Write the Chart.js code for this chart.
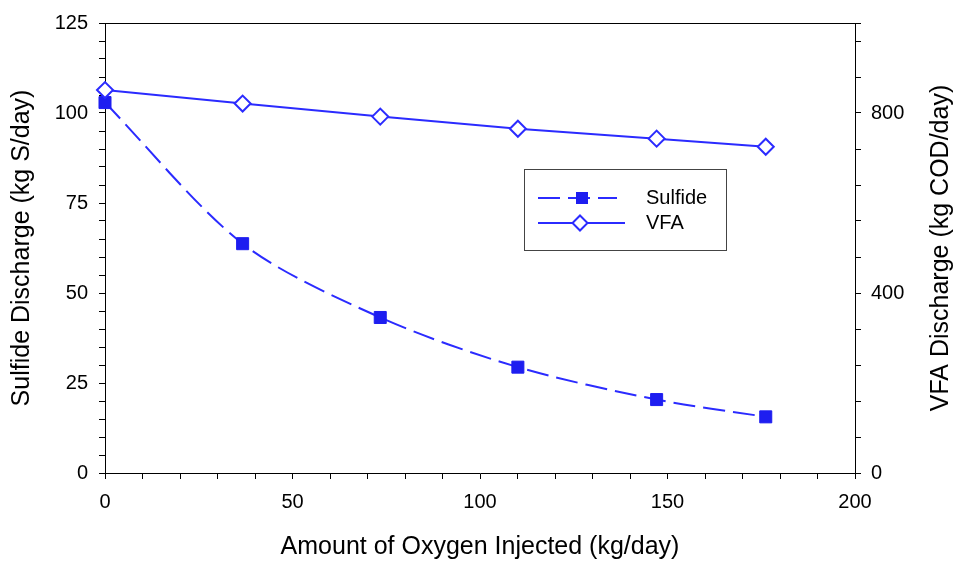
<!DOCTYPE html>
<html><head><meta charset="utf-8">
<script src="https://cdn.jsdelivr.net/npm/chart.js@4/dist/chart.umd.min.js"></script>
<style>html,body{margin:0;padding:0;background:#fff}#wrap{width:954px;height:562px}</style>
</head><body><div id="wrap"><canvas id="c" width="954" height="562"></canvas></div>
<script>
const oxygen = [0, 36.7, 73.4, 110.1, 147.1, 176.2];
const sulfide = [102.9, 63.7, 43.2, 29.4, 20.4, 15.6];
const vfa = [851, 821, 792, 765, 743, 725];
const xLabelTicks = [0, 50, 100, 150, 200];
const leftLabelTicks = [0, 25, 50, 75, 100, 125];
const rightLabelTicks = [0, 400, 800];
const seriesNames = ['Sulfide', 'VFA'];
const xTitle = 'Amount of Oxygen Injected (kg/day)';
const leftTitle = 'Sulfide Discharge (kg S/day)';
const rightTitle = 'VFA Discharge (kg COD/day)';

const FONT = "'Liberation Sans', Arial, sans-serif";
const BLUE = '#2b2bff';
const FILL = '#1e1ef0';

function stepTicks(min, max, step) {
  const out = [];
  for (let v = min; v < max - 1e-9; v += step) out.push({value: v});
  out.push({value: max});
  return out;
}

const decor = {
  id: 'decor',
  afterDraw(chart) {
    const {ctx, chartArea: a} = chart;
    ctx.save();
    ctx.strokeStyle = '#000'; ctx.lineWidth = 1;
    ctx.beginPath(); ctx.moveTo(a.left, a.top + 0.5); ctx.lineTo(a.right, a.top + 0.5); ctx.stroke();

    // right axis title (reads bottom to top)
    ctx.fillStyle = '#000';
    ctx.font = '25px ' + FONT;
    ctx.textAlign = 'center'; ctx.textBaseline = 'middle';
    ctx.translate(941, (a.top + a.bottom) / 2);
    ctx.rotate(-Math.PI / 2);
    ctx.fillText(rightTitle, 0, 0);
    ctx.restore();

    // legend
    ctx.save();
    const bx = 524, by = 169, bw = 202, bh = 81;
    ctx.fillStyle = '#fff'; ctx.fillRect(bx, by, bw, bh);
    ctx.strokeStyle = '#444'; ctx.lineWidth = 1;
    ctx.strokeRect(bx + 0.5, by + 0.5, bw, bh);
    const rows = [198, 223];
    ctx.strokeStyle = BLUE; ctx.lineWidth = 2;
    ctx.setLineDash([22, 8]);
    ctx.beginPath(); ctx.moveTo(538, rows[0]); ctx.lineTo(617, rows[0]); ctx.stroke();
    ctx.setLineDash([]);
    ctx.fillStyle = FILL;
    ctx.fillRect(576, rows[0] - 6, 12, 12);
    ctx.beginPath(); ctx.moveTo(538, rows[1]); ctx.lineTo(625, rows[1]); ctx.stroke();
    const dx = 580, r = 7.5;
    ctx.beginPath();
    ctx.moveTo(dx, rows[1] - r); ctx.lineTo(dx + r, rows[1]); ctx.lineTo(dx, rows[1] + r); ctx.lineTo(dx - r, rows[1]); ctx.closePath();
    ctx.fillStyle = '#fff'; ctx.fill(); ctx.stroke();
    ctx.fillStyle = '#000';
    ctx.font = '20px ' + FONT;
    ctx.textAlign = 'left'; ctx.textBaseline = 'middle';
    ctx.fillText(seriesNames[0], 646, rows[0]);
    ctx.fillText(seriesNames[1], 646, rows[1]);
    ctx.restore();
  }
};

const tickFont = {family: FONT, size: 20};
const titleFont = {family: FONT, size: 25};

new Chart(document.getElementById('c'), {
  type: 'line',
  data: {
    datasets: [
      {
        label: seriesNames[1],
        data: oxygen.map((x, i) => ({x, y: vfa[i]})),
        yAxisID: 'y2',
        order: 0,
        borderColor: BLUE, borderWidth: 2,
        pointStyle: 'rectRot', pointRadius: 8, pointBorderWidth: 2,
        pointBackgroundColor: '#fff', pointBorderColor: BLUE,
        tension: 0, clip: false
      },
      {
        label: seriesNames[0],
        data: oxygen.map((x, i) => ({x, y: sulfide[i]})),
        yAxisID: 'y',
        order: 1,
        borderColor: BLUE, borderWidth: 2, borderDash: [22, 8],
        pointStyle: 'rect', pointRadius: 8.5, pointBorderWidth: 1,
        pointBackgroundColor: FILL, pointBorderColor: FILL,
        tension: 0.3, clip: false
      }
    ]
  },
  options: {
    responsive: false,
    animation: false,
    layout: {padding: {top: 22, left: 0, right: 0, bottom: 0}},
    plugins: {legend: {display: false}, tooltip: {enabled: false}},
    scales: {
      x: {
        type: 'linear', position: 'bottom', min: 0, max: 200,
        afterBuildTicks: s => { s.ticks = stepTicks(0, 200, 10); },
        afterFit: s => { s.height = 89; },
        ticks: {autoSkip: false, maxRotation: 0, color: '#000', font: tickFont, padding: 11,
          callback: v => xLabelTicks.includes(v) ? String(v) : ''},
        grid: {drawOnChartArea: false, drawTicks: true, tickLength: 6, color: '#000', lineWidth: 1},
        border: {color: '#000', width: 1},
        title: {display: true, text: xTitle, color: '#000', font: titleFont, padding: {top: 0, bottom: 0}}
      },
      y: {
        type: 'linear', position: 'left', min: 0, max: 125,
        afterBuildTicks: s => { s.ticks = stepTicks(0, 125, 5); },
        afterFit: s => { s.width = 105; },
        ticks: {autoSkip: false, color: '#000', font: tickFont, padding: 11,
          callback: v => leftLabelTicks.includes(v) ? String(v) : ''},
        grid: {drawOnChartArea: false, drawTicks: true, tickLength: 6, color: '#000', lineWidth: 1},
        border: {color: '#000', width: 1},
        title: {display: true, text: leftTitle, color: '#000', font: titleFont, padding: {top: 7, bottom: 7}}
      },
      y2: {
        type: 'linear', position: 'right', min: 0, max: 1000,
        afterBuildTicks: s => { s.ticks = stepTicks(0, 1000, 80); },
        afterFit: s => { s.width = 99; },
        ticks: {autoSkip: false, color: '#000', font: tickFont, padding: 10,
          callback: v => rightLabelTicks.includes(v) ? String(v) : ''},
        grid: {drawOnChartArea: false, drawTicks: true, tickLength: 6, color: '#000', lineWidth: 1},
        border: {color: '#000', width: 1},
        title: {display: false}
      }
    }
  },
  plugins: [decor]
});
</script>
</body></html>
